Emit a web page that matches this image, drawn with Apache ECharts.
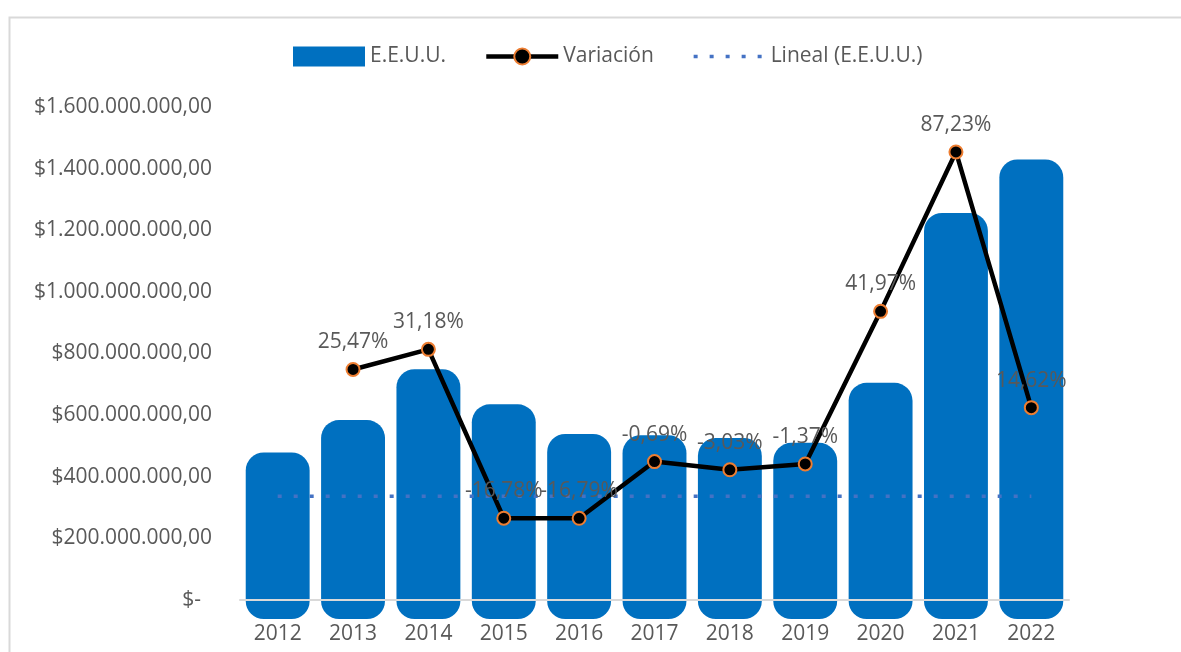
<!DOCTYPE html>
<html>
<head>
<meta charset="utf-8">
<script src="https://cdn.jsdelivr.net/npm/echarts@6/dist/echarts.min.js"></script>
<style>
  html, body { margin: 0; padding: 0; background: #fff; }
  #chart { width: 1181px; height: 652px; }
</style>
</head>
<body>
<div id="chart"></div>
<script>
var years = ["2012", "2013", "2014", "2015", "2016", "2017", "2018", "2019", "2020", "2021", "2022"];
var eeuu = [479e6, 584e6, 749e6, 635e6, 539e6, 535e6, 526e6, 510e6, 705e6, 1256e6, 1430e6];
var variacion = [null, 25.47, 31.18, -16.78, -16.79, -0.69, -3.03, -1.37, 41.97, 87.23, 14.62];
var lineal = [337e6, 337e6, 337e6, 337e6, 337e6, 337e6, 337e6, 337e6, 337e6, 337e6, 337e6];
var yTicks = [0, 200e6, 400e6, 600e6, 800e6, 1000e6, 1200e6, 1400e6, 1600e6];

var font = "Open Sans";
var textColor = "#595959";

function money(v) {
  if (v === 0) return "$-  ";
  var s = String(Math.round(v)).replace(/\B(?=(\d{3})+(?!\d))/g, ".");
  return "$" + s + ",00";
}

var chart = echarts.init(document.getElementById("chart"));
chart.setOption({
  animation: false,
  textStyle: { fontFamily: font },
  graphic: [{
    type: "rect",
    left: 7, top: 15, z: -10,
    shape: { width: 1200, height: 700 },
    style: { fill: "none", stroke: "#D9D9D9", lineWidth: 2 }
  }],
  legend: {
    left: 288, top: 41,
    itemWidth: 72, itemHeight: 20, itemGap: 38,
    textStyle: { fontFamily: font, fontSize: 21, color: textColor },
    data: [
      { name: "E.E.U.U.", icon: "rect" },
      { name: "Variación", lineStyle: { width: 4.5, color: "#000" } },
      { name: "Lineal (E.E.U.U.)", itemStyle: { opacity: 0 }, lineStyle: { width: 3.5, type: [4, 12], color: "#4472C4" } }
    ]
  },
  grid: { left: 240, right: 112, top: 107, bottom: 52 },
  xAxis: {
    type: "category",
    data: years,
    z: 3,
    axisTick: { show: false },
    axisLine: { lineStyle: { color: "#D9D9D9", width: 2 } },
    axisLabel: { fontFamily: font, fontSize: 21, color: textColor, margin: 24 }
  },
  yAxis: [{
    type: "value",
    min: 0, max: 1600e6, interval: 200e6,
    splitLine: { show: false },
    axisLine: { show: false },
    axisTick: { show: false },
    axisLabel: {
      fontFamily: font, fontSize: 21, color: textColor, margin: 28,
      formatter: function (v) { return yTicks.indexOf(v) >= 0 ? money(v) : ""; }
    }
  }, {
    type: "value",
    min: -40, max: 100,
    show: false
  }],
  series: [{
    name: "E.E.U.U.",
    type: "custom",
    itemStyle: { color: "#0070C0" },
    data: eeuu.map(function (v, i) { return [i, v]; }),
    encode: { x: 0, y: 1 },
    renderItem: function (params, api) {
      var top = api.coord([api.value(0), api.value(1)]);
      var base = api.coord([api.value(0), 0]);
      var w = api.size([1, 0])[0] * 0.848;
      return {
        type: "rect",
        shape: { x: top[0] - w / 2, y: top[1], width: w, height: base[1] - top[1] + 19, r: 18 },
        style: { fill: "#0070C0" }
      };
    }
  }, {
    name: "Lineal (E.E.U.U.)",
    type: "line",
    z: 5,
    data: lineal,
    symbol: "none",
    itemStyle: { color: "#4472C4" },
    lineStyle: { color: "#4472C4", width: 3.5, type: [4, 12] }
  }, {
    name: "Variación",
    type: "line",
    yAxisIndex: 1,
    z: 10,
    data: variacion,
    symbol: "circle",
    symbolSize: 13,
    itemStyle: { color: "#000", borderColor: "#ED7D31", borderWidth: 2 },
    lineStyle: { color: "#000", width: 4.5 },
    label: {
      show: true, position: "top", distance: 9,
      fontFamily: font, fontSize: 21, color: textColor,
      formatter: function (p) { return p.value.toFixed(2).replace(".", ",") + "%"; }
    }
  }]
});
</script>
</body>
</html>
